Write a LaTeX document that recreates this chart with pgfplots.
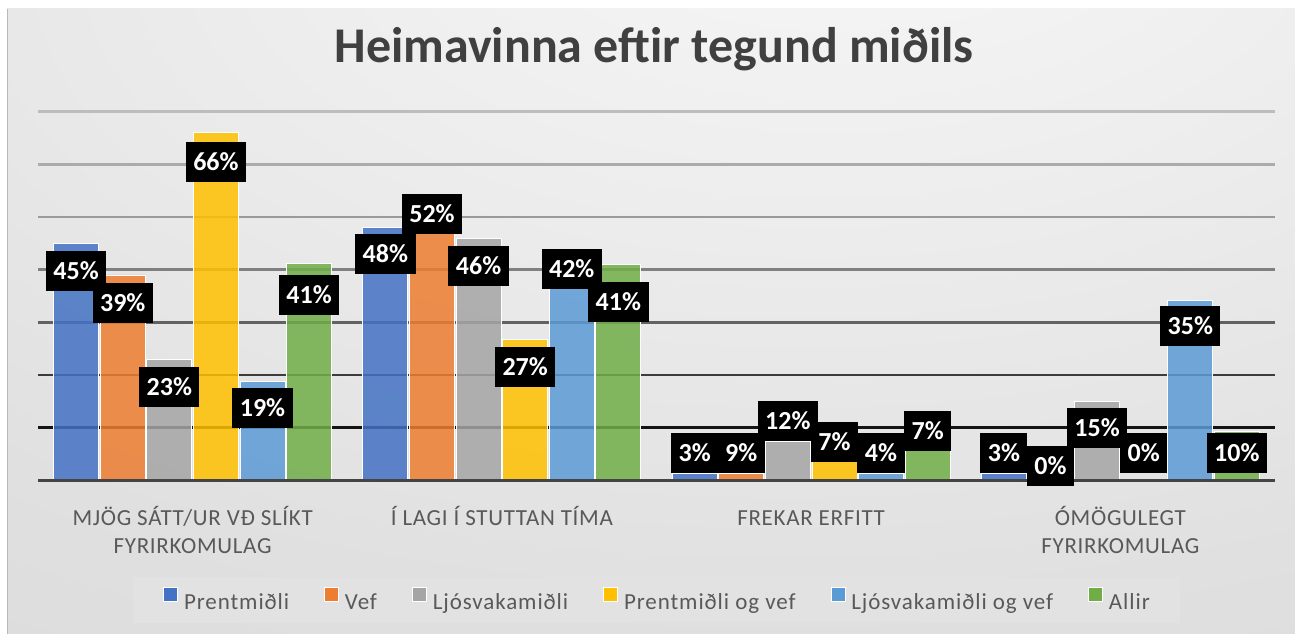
\documentclass[border=0pt]{standalone}
\usepackage{pgfplots}
\pgfplotsset{compat=1.18}
\usepackage{pgfplotstable}
\usepackage{fontspec}
\setmainfont{Carlito}
\newfontfamily\catfont[LetterSpace=3]{Carlito}
\newfontfamily\legfont[LetterSpace=4]{Carlito}
\definecolor{cBlue}{HTML}{4472C4}
\definecolor{cOrange}{HTML}{ED7D31}
\definecolor{cGray}{HTML}{A5A5A5}
\definecolor{cYellow}{HTML}{FFC000}
\definecolor{cLBlue}{HTML}{5B9BD5}
\definecolor{cGreen}{HTML}{70AD47}
\definecolor{titlegray}{HTML}{404040}
\definecolor{catgray}{HTML}{595959}
\definecolor{legbg}{HTML}{E2E2E2}
\definecolor{bgA}{HTML}{F8F8F8}
\definecolor{bgB}{HTML}{EEEEEE}
\definecolor{bgC}{HTML}{E0E0E0}
\definecolor{bgD}{HTML}{D6D6D6}
\definecolor{bgE}{HTML}{CBCBCB}
\definecolor{g1}{HTML}{141414}
\definecolor{g2}{HTML}{3C3C3C}
\definecolor{g3}{HTML}{626262}
\definecolor{g4}{HTML}{808080}
\definecolor{g5}{HTML}{9A9A9A}
\definecolor{g6}{HTML}{ABABAB}
\definecolor{g7}{HTML}{BDBDBD}
\definecolor{baseln}{HTML}{444444}
\pgfdeclareradialshading{chartbg}{\pgfpoint{8bp}{38bp}}{color(0bp)=(bgA); color(20bp)=(bgB); color(45bp)=(bgC); color(75bp)=(bgD); color(110bp)=(bgE)}

% x: category, h: bar height (%), lab: printed label, ly: top of label box (axis units)
\pgfplotstableread{
x h lab ly
0 45 45 43.55
1 48 48 46.72
2 1.3 3 8.98
3 1.3 3 8.98
}\tPrent
\pgfplotstableread{
x h lab ly
0 39 39 37.47
1 52 52 54.37
2 1.3 9 8.98
3 0 0 6.51
}\tVef
\pgfplotstableread{
x h lab ly
0 23 23 21.52
1 46 46 44.50
2 7.4 12 15.06
3 15 15 13.73
}\tLjos
\pgfplotstableread{
x h lab ly
0 66 66 64.25
1 26.8 27 25.37
2 3.5 7 11.07
3 0 0 8.98
}\tPrentVef
\pgfplotstableread{
x h lab ly
0 18.7 19 17.53
1 42 42 43.93
2 1.3 4 8.98
3 34.2 35 33.14
}\tLjosVef
\pgfplotstableread{
x h lab ly
0 41.2 41 39.07
1 41 41 37.66
2 6.6 7 13.16
3 9.2 10 8.98
}\tAllir

\begin{document}
\begin{tikzpicture}
\useasboundingbox (0,0) rectangle (1295pt,633pt);
\fill[white] (0,0) rectangle (1295pt,633pt);
\path[shading=chartbg] (7pt,0pt) rectangle (1300pt,624pt);
\draw[gray!55, line width=0.8pt] (7pt,-5pt) -- (7pt,624pt);
\node[anchor=base, text=titlegray, font=\fontsize{50}{60}\selectfont\bfseries] at (654pt,570pt) {Heimavinna eftir tegund miðils};
\begin{axis}[
  at={(38pt,152.7pt)}, anchor=south west,
  scale only axis, width=1237pt, height=368.6pt,
  xmin=-0.5, xmax=3.5, ymin=0, ymax=70,
  enlargelimits=false, clip=false,
  axis line style={draw=none},
  ytick=\empty,
  xtick={0,1,2,3},
  major tick length=0pt,
  xticklabels={{\strut MJÖG SÁTT/UR VÐ SLÍKT\\FYRIRKOMULAG},{\strut Í LAGI Í STUTTAN TÍMA},{\strut FREKAR ERFITT},{\strut ÓMÖGULEGT\\FYRIRKOMULAG}},
  xticklabel style={font=\fontsize{23}{28}\catfont, text=catgray, align=center, anchor=north, inner sep=0pt, yshift=-25pt},
  ybar, bar width=45pt,
  legend image code/.code={\draw[#1, draw=white, line width=0.8pt, fill opacity=1] (0pt,0.5pt) rectangle (14pt,14.5pt);},
  legend columns=-1,
  legend style={at={(axis description cs:0,0)}, anchor=west, xshift=95pt, yshift=-120pt,
    draw=none, fill=legbg, inner xsep=30pt, inner ysep=10pt,
    font=\fontsize{23}{27}\legfont, text=catgray,
    nodes={inner xsep=0pt, inner ysep=2pt},
    /tikz/every odd column/.append style={column sep=6pt},
    /tikz/every even column/.append style={column sep=35pt}},
  legend entries={Prentmiðli, Vef, Ljósvakamiðli, Prentmiðli og vef, Ljósvakamiðli og vef, Allir},
  lbl/.style={forget plot, draw=none, fill=none,
    nodes near coords={\pgfplotspointmeta\%},
    point meta=explicit symbolic,
    every node near coord/.append style={fill=black, text=white,
      font=\fontsize{26}{30}\selectfont\bfseries,
      inner xsep=7.5pt, inner ysep=0pt, minimum height=40pt,
      text height=17pt, text depth=0pt, anchor=north}},
  bstyle/.style={draw=white, line width=0.8pt, fill opacity=0.85},
]
\draw[g7, line width=2.5pt] (axis cs:-0.5,70) -- (axis cs:3.5,70);
\draw[g6, line width=2.5pt] (axis cs:-0.5,60) -- (axis cs:3.5,60);
\draw[g5, line width=2.5pt] (axis cs:-0.5,50) -- (axis cs:3.5,50);
\draw[g4, line width=2.5pt] (axis cs:-0.5,40) -- (axis cs:3.5,40);
\draw[g3, line width=2.5pt] (axis cs:-0.5,30) -- (axis cs:3.5,30);
\draw[g2, line width=2.5pt] (axis cs:-0.5,20) -- (axis cs:3.5,20);
\draw[g1, line width=2.5pt] (axis cs:-0.5,10) -- (axis cs:3.5,10);

\addplot[bstyle, fill=cBlue, bar shift=-116.5pt] table[x=x, y=h] {\tPrent};
\addplot[bstyle, fill=cOrange, bar shift=-69.9pt] table[x=x, y=h] {\tVef};
\addplot[bstyle, fill=cGray, bar shift=-23.3pt] table[x=x, y=h] {\tLjos};
\addplot[bstyle, fill=cYellow, bar shift=23.3pt] table[x=x, y=h] {\tPrentVef};
\addplot[bstyle, fill=cLBlue, bar shift=69.9pt] table[x=x, y=h] {\tLjosVef};
\addplot[bstyle, fill=cGreen, bar shift=116.5pt] table[x=x, y=h] {\tAllir};

\draw[baseln, line width=3.5pt] (axis cs:-0.5,0) -- (axis cs:3.5,0);

\addplot[lbl, bar shift=-116.5pt] table[x=x, y=ly, meta=lab] {\tPrent};
\addplot[lbl, bar shift=-69.9pt] table[x=x, y=ly, meta=lab] {\tVef};
\addplot[lbl, bar shift=-23.3pt] table[x=x, y=ly, meta=lab] {\tLjos};
\addplot[lbl, bar shift=23.3pt] table[x=x, y=ly, meta=lab] {\tPrentVef};
\addplot[lbl, bar shift=69.9pt] table[x=x, y=ly, meta=lab] {\tLjosVef};
\addplot[lbl, bar shift=116.5pt] table[x=x, y=ly, meta=lab] {\tAllir};
\end{axis}
\end{tikzpicture}
\end{document}
